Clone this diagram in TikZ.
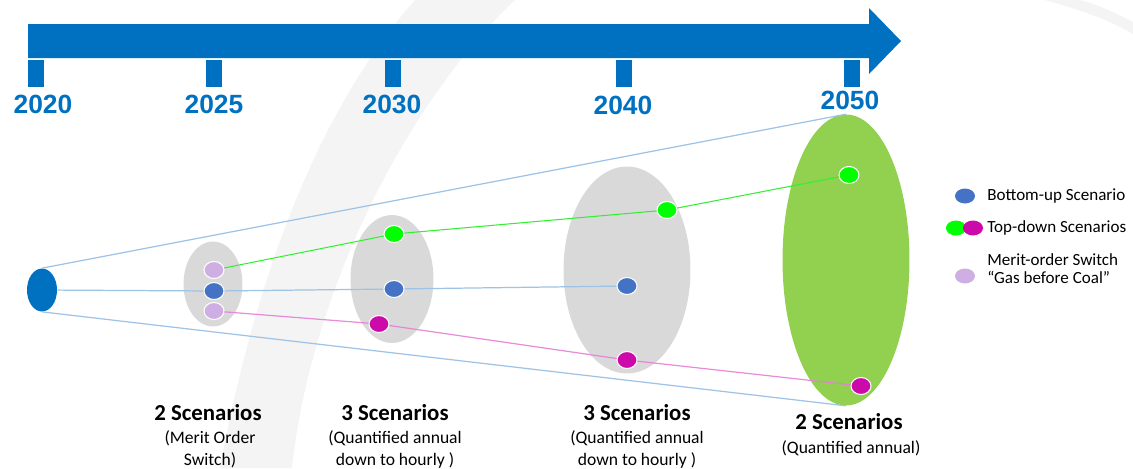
\documentclass[tikz,border=0pt]{standalone}
\usepackage{fontspec}
\setmainfont{Carlito}
\newfontfamily\yearfont{Liberation Sans}
\usetikzlibrary{shapes.geometric}
\usetikzlibrary{positioning}

\definecolor{barblue}{HTML}{0070C0}
\definecolor{dotblue}{HTML}{4472C4}
\definecolor{dotgreen}{HTML}{00FF00}
\definecolor{dotmag}{HTML}{CC0AAA}
\definecolor{dotlilac}{HTML}{CFAEE3}
\definecolor{blobgrey}{HTML}{D9D9D9}
\definecolor{blobgreen}{HTML}{92D050}
\definecolor{coneblue}{HTML}{9DC3E6}
\definecolor{linepink}{HTML}{E580D5}
\definecolor{linegreen}{HTML}{33EE33}
\definecolor{swoosh}{HTML}{F4F4F4}

\begin{document}
\begin{tikzpicture}[
  x=0.02cm, y=-0.02cm,
  dot/.style = {ellipse,draw=white,line width=0.6pt,inner sep=0pt,minimum width=0.4cm,minimum height=0.34cm},
  blob/.style = {ellipse,inner sep=0pt,fill=blobgrey},
  yeartick/.style = {fill=barblue},
  year/.style = {font=\yearfont\bfseries\fontsize{15}{18}\selectfont,text=barblue,anchor=base},
  cone/.style = {coneblue,line width=0.7pt},
  title/.style = {font=\bfseries\fontsize{13}{15}\selectfont,anchor=base},
  sub/.style = {font=\fontsize{10}{12.5}\selectfont,align=center,anchor=base},
  legend/.style = {font=\fontsize{9.7}{10.4}\selectfont,align=left,anchor=west,inner sep=0pt}
  ]
	\useasboundingbox (0,0) rectangle (1133,468);

	% faint swoosh in the back
	\fill[swoosh] (220,468) .. controls (245,330) and (300,130) .. (415,0) -- (515,0) .. controls (400,110) and (310,300) .. (292,468) -- cycle;
	\fill[swoosh] (1045,0) .. controls (1080,10) and (1110,20) .. (1133,34) -- (1133,22) .. controls (1115,12) and (1095,4) .. (1080,0) -- cycle;

	% time line
	\fill[barblue] (28,24) -- (869,24) -- (869,8) -- (901,41) -- (869,74) -- (869,58) -- (28,58) -- cycle;
	\foreach \x/\lx/\yr/\b in {36/43/2020/113, 214/214/2025/113, 393/392/2030/113, 624/623/2040/114, 852/850/2050/109} {
		\fill[yeartick] (\x-8,60) rectangle (\x+8,87);
		\node[year] (y\yr) at (\lx,\b) {\yr};
	}

	\coordinate (@0) at (42,290);
	\coordinate (@25) at (213,284);
	\coordinate (@30) at (392,279);
	\coordinate (@40) at (627,270);
	\coordinate (@50) at (846,260);

	\node[ellipse,fill=barblue,inner sep=0pt,minimum width=0.6cm,minimum height=0.86cm] (orig) at (@0) {};
	\node[blob,minimum width=1.18cm,minimum height=1.7cm] (e25) at (@25) {};
	\node[blob,minimum width=1.66cm,minimum height=2.56cm] (e30) at (@30) {};
	\node[blob,minimum width=2.54cm,minimum height=4.14cm] (e40) at (@40) {};
	\node[blob,fill=blobgreen,minimum width=2.54cm,minimum height=5.82cm] (e50) at (@50) {};

	\node[dot,fill=dotlilac] (l25a) at (214,270) {};
	\node[dot,fill=dotblue] (b25) at (214,291) {};
	\node[dot,fill=dotlilac] (l25b) at (214,311) {};
	\node[dot,fill=dotgreen] (g30) at (394,234) {};
	\node[dot,fill=dotblue] (b30) at (394,289) {};
	\node[dot,fill=dotmag] (m30) at (379,324) {};
	\node[dot,fill=dotgreen] (g40) at (667,210) {};
	\node[dot,fill=dotblue] (b40) at (627,286) {};
	\node[dot,fill=dotmag] (m40) at (627,360) {};
	\node[dot,fill=dotgreen] (g50) at (849,175) {};
	\node[dot,fill=dotmag] (m50) at (861,386) {};

	\draw[cone] (orig.north) -- (e50.north);
	\draw[cone] (orig.south) -- (e50.south);
	\draw[cone] (orig) -- (b25) -- (b30) -- (b40);
	\draw[linegreen,line width=0.6pt] (l25a) -- (g30) -- (g40) -- (g50);
	\draw[linepink,line width=0.7pt,opacity=0.9] (l25b) -- (m30) -- (m40) -- (m50);

	% legend
	\node[dot,draw=none,minimum height=0.3cm,fill=dotblue] (kb) at (965,196) {};
	\node[dot,draw=none,minimum height=0.3cm,fill=dotgreen] (kg) at (956,228) {};
	\node[dot,draw=none,minimum height=0.3cm,fill=dotmag] (km) at (973,228) {};
	\node[dot,draw=none,minimum height=0.3cm,fill=dotlilac] (kl) at (965,276) {};
	\node[legend] (tb) at (987,196) {Bottom-up Scenario};
	\node[legend] (tm) at (987,228) {Top-down Scenarios};
	\node[legend] (tl) at (987,269) {Merit-order Switch\\“Gas before Coal”};

	% captions
	\node[title] (s25) at (208,420) {2 Scenarios};
	\node[sub] (c25) at (210,465) {(Merit Order\\Switch)};
	\node[title] (s30) at (395,420) {3 Scenarios};
	\node[sub] (c30) at (395,465) {(Quantified annual\\down to hourly )};
	\node[title] (s40) at (637,420) {3 Scenarios};
	\node[sub] (c40) at (637,465) {(Quantified annual\\down to hourly )};
	\node[title] (s50) at (849,429) {2 Scenarios};
	\node[sub] (c50) at (851,453) {(Quantified annual)};

\end{tikzpicture}
\end{document}
